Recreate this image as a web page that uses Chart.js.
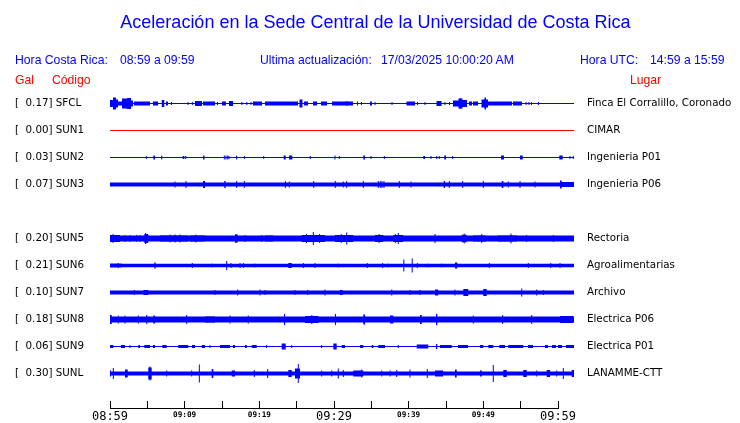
<!DOCTYPE html>
<html><head><meta charset="utf-8">
<script src="https://cdn.jsdelivr.net/npm/chart.js@4/dist/chart.umd.min.js"></script>
<style>
html,body{margin:0;padding:0;background:#fff;}
#wrap{position:relative;width:740px;height:423px;overflow:hidden;background:#fff;}
canvas{position:absolute;left:0;top:0;}
.t{position:absolute;white-space:pre;font-family:"Liberation Sans",Arial,sans-serif;line-height:1;}
.b{color:#0000ff;font-size:12.2px;}
.r{color:#ff0000;font-size:12.2px;}
</style></head><body>
<div id="wrap">
<canvas id="c" width="740" height="423"></canvas>
<div class="t" style="left:0;width:751px;text-align:center;top:13px;font-size:18px;color:#0000ff">Aceleración en la Sede Central de la Universidad de Costa Rica</div>
<div class="t b" style="left:15px;top:54px">Hora Costa Rica:</div>
<div class="t b" style="left:120px;top:54px">08:59 a 09:59</div>
<div class="t b" style="left:260px;top:54px">Ultima actualización:</div>
<div class="t b" style="left:381px;top:54px">17/03/2025 10:00:20 AM</div>
<div class="t b" style="left:580px;top:54px">Hora UTC:</div>
<div class="t b" style="left:650px;top:54px">14:59 a 15:59</div>
<div class="t r" style="left:15px;top:74px">Gal</div>
<div class="t r" style="left:52px;top:74px">Código</div>
<div class="t r" style="left:630px;top:74px">Lugar</div>
</div>
<script>
// ---------- data ----------
const codes  = ['SFCL','SUN1','SUN2','SUN3','SUN4','SUN5','SUN6','SUN7','SUN8','SUN9','SUNL'];
const gal    = [0.17, 0.00, 0.03, 0.07, null, 0.20, 0.21, 0.10, 0.18, 0.06, 0.30];
const places = ['Finca El Corralillo, Coronado','CIMAR','Ingenieria P01','Ingenieria P06',null,
                'Rectoria','Agroalimentarias','Archivo','Electrica P06','Electrica P01','LANAMME-CTT'];
// background (noise) half-amplitude of each trace
const baseAmp = [0.5, 0.5, 0.5, 2, null, 3, 1.7, 2, 3, 0.5, 2];
// time axis (minutes after 08:59) and its labels
const tickMinutes = [0,5,10,15,20,25,30,35,40,45,50,55,60];
const tickLabels  = ['08:59','','09:09','','09:19','','09:29','','09:39','','09:49','','09:59'];

// bursts: [minuteStart, minuteEnd, halfAmplitude] or [minute, halfAmplitude]
const SFCL = [[0,0.39,3.5],[0.39,0.78,6],[0.78,1.03,4],[1.03,1.55,2],[1.55,2.2,5],[2.2,2.72,5.5],[2.72,2.97,3],
 [3.1,5.17,2],[5.56,6.21,2],[6.69,7.02,3.5],[7.24,7.5,2],[7.95,1.5],[10.1,1.5],[10.65,1.5],[10.99,11.9,2.5],
 [12.03,13.58,2],[13.9,1.5],[14.48,15.0,2],[15.39,15.91,2.5],[17.05,1.5],[17.7,1.5],[18.23,1.5],[18.49,19.66,2],
 [20.04,24.31,2],[24.5,24.89,4],[25.09,25.6,2],[26.25,26.77,2],[27.28,28.06,2],[28.71,31.42,2],[30.64,2.5],
 [32.0,2],[32.52,1.5],[33.62,33.88,2],[34.27,1.5],[36.47,1.5],[38.34,39.44,2],[39.77,1.5],[40.73,1.5],
 [42.22,42.87,2.5],[43.31,1.5],[43.9,1.5],[44.35,45.06,3],[45.06,45.58,5],[45.3,5.5],[45.58,46.16,3.5],
 [46.42,46.81,2],[46.94,47.59,2],[48.04,48.43,4],[48.43,48.62,6],[48.62,48.88,4],[48.88,51.98,2],
 [52.11,53.27,2],[53.8,1.5],[54.18,1.5],[54.5,1.5],[55.4,1.5]];
const SUN1 = [];
const SUN2 = [[4.69,1.5],[5.6,5.82,2],[6.69,2],[9.4,9.61,1.5],[9.79,1.5],[12.03,12.22,2],[14.78,2],[15.0,2],
 [15.22,2],[15.39,1.5],[16.38,2],[17.37,1.5],[19.88,1.5],[22.46,22.72,2],[23.15,23.57,2],[25.9,1.5],[29.09,2],
 [29.65,1.5],[32.75,32.97,2],[33.75,1.5],[35.47,1.5],[40.51,40.73,1.5],[41.51,1.5],[42.25,1.5],[42.58,1.5],
 [43.23,43.45,2],[44.31,1.5],[50.56,50.95,2],[53.02,53.37,2],[58.1,58.54,2],[59.48,1.5],[59.91,1.5]];
const SUN3 = [[8.41,3],[9.83,3.5],[12.03,12.28,3.5],[14.78,14.96,3.5],[16.38,3.5],[17.37,3.5],[22.67,3.5],
 [23.19,3],[26.34,3.5],[29.13,3.5],[30.17,3],[30.61,3.5],[32.75,3.5],[34.69,3.5],[34.95,3.5],[35.17,3.5],
 [35.43,3.5],[37.41,3.5],[38.92,3],[43.15,43.32,3.5],[43.87,3.5],[45.61,3.5],[48.27,3.5],[50.65,50.86,3.5],
 [51.5,3],[53.02,3.5],[54.96,3],[58.19,58.41,4],[58.41,60,2.5]];
const SUN5 = [[0,1.29,3.5],[0.4,4.5],[1.94,3.5],[2.59,3.5],[3.45,3.5],[3.88,3.5],[4.44,4.95,4.5],[4.6,5.5],
 [6.47,10.09,3.2],[7.76,4],[8.41,4],[9.05,4],[10.34,12.28,3.3],[11.1,4],[16.16,16.51,4],[16.3,4.5],[17.46,3.5],
 [19.62,3.5],[20.04,21.12,3.3],[24.79,27.8,3.5],[25.4,4.5],[26.29,6.5],[27.1,4.5],[29.09,31.46,3.5],
 [30.61,6],[29.9,4.5],[31.46,34.0,3],[34.27,35.34,3.5],[34.8,4.5],[36.63,37.93,3.5],[37.28,5.5],[36.9,4.5],
 [42.03,4.5],[45.48,46.12,3.8],[45.8,5],[46.94,48.62,3.3],[48.07,4.5],[50.17,52.63,3.3],[51.85,5],
 [53.88,3.5],[57.32,3.5]];
const SUN6 = [[0,1.5,2],[1.07,2.5],[5.73,5.91,3],[10.64,2.5],[13.15,2],[15.09,4.5],[15.65,2.5],[16.81,2.5],
 [17.24,2.5],[18.75,2],[23.06,23.5,2.5],[25.0,2.5],[26.51,2.5],[29.52,2],[33.27,2.5],[35.26,2.5],[35.91,2],
 [37.93,38.06,6],[39.01,39.14,7],[39.74,2.5],[41.16,2],[42.89,2],[44.61,44.91,3],[49.05,2.5],[54.09,2.5],
 [56.99,2.5],[58.19,2.5]];
const SUN7 = [[3.14,2.5],[4.31,4.95,2.5],[7.76,8.15,2],[9.7,10.73,2],[11.34,2],[13.58,2.5],[16.51,3],[19.4,3],
 [20.04,2.5],[21.76,2],[23.92,2.5],[25.57,2.5],[27.8,3],[29.52,2],[29.74,30.09,2.5],[36.43,3],[38.79,2.5],
 [40.09,2.5],[42.03,42.45,3],[44.61,3],[45.69,46.33,3.5],[48.27,48.71,3.5],[53.24,4],[55.18,3],[56.03,2.5]];
const SUN8 = [[0,0.22,4.5],[1.07,4],[1.94,4],[3.66,4],[4.75,4.5],[5.6,5.82,4],[9.92,4.5],[12.28,13.58,3.3],
 [15.52,4],[17.88,4],[22.5,22.63,5.5],[25.22,26.94,3.5],[26.1,4.5],[29.09,29.22,5.5],[32.75,32.97,5],
 [36.21,36.63,4],[40.09,40.31,4.5],[42.16,42.32,5.5],[46.98,4],[50.78,4.5],[54.53,4.5],[58.19,59.91,3.4]];
const SUN9 = [[0,0.43,1.5],[1.42,1.94,1.5],[2.59,1.5],[3.66,3.88,1.5],[4.44,5.17,1.5],[5.56,5.82,1.5],
 [6.76,7.33,1.5],[8.83,10.12,1.5],[10.6,10.99,1.5],[11.86,12.28,1.5],[12.93,1.5],[14.22,15.52,1.5],
 [15.9,16.16,1.5],[17.46,17.68,1.5],[18.32,18.97,1.5],[20.26,1.5],[22.2,22.72,3],[23.5,1.5],[27.37,1.5],
 [28.88,29.31,3],[29.96,30.39,1.5],[32.33,32.75,1.5],[33.84,34.05,1.5],[34.69,35.56,1.5],[37.28,1.5],
 [39.66,41.16,2],[42.16,42.32,2.5],[42.67,44.18,1.5],[45.0,46.29,1.5],[47.84,48.27,1.5],[48.92,49.56,1.5],
 [50.34,51.08,1.5],[51.5,53.44,1.5],[54.05,54.7,1.5],[56.25,56.64,1.5],[57.16,57.67,1.5],[57.93,58.45,1.5],
 [58.97,60,1.5]];
const SUNL = [[0,0.13,3],[0.43,5.5],[1.94,2.29,4],[4.95,5.39,6],[5.17,7],[7.33,3],[10.56,3],[11.55,9],
 [13.15,13.36,4.5],[15.74,16.16,3],[18.66,3.5],[20.39,4.5],[23.06,23.5,3.5],[23.92,24.57,5],[24.35,9.5],
 [27.37,3],[28.67,3],[29.52,5],[30.17,3.5],[31.46,32.75,3],[32.55,4],[35.13,3],[36.21,3],[37.07,3.5],
 [38.79,4],[41.03,4.5],[42.03,43.06,3],[44.61,44.83,4],[47.84,48.07,3],[49.56,8.5],[50.86,51.3,3.5],
 [53.44,53.88,3.5],[55.18,3],[56.47,56.9,3.5],[57.76,3],[58.62,5.5],[59.7,60,3.5]];
const bursts = [SFCL, SUN1, SUN2, SUN3, null, SUN5, SUN6, SUN7, SUN8, SUN9, SUNL];

// ---------- rendering ----------
const SPACING = 27;          // vertical distance between traces (axis units)
const HALF_SAMPLE = 0.065;   // half width of a single-sample spike (minutes)
const TRACE_MIN = 0, TRACE_MAX = 60;

function envelope(base, list) {
  const segs = list.map(b => b.length === 3 ? b : [b[0] - HALF_SAMPLE, b[0] + HALF_SAMPLE, b[1]]);
  const clamp = v => Math.min(TRACE_MAX, Math.max(TRACE_MIN, v));
  const edges = new Set([TRACE_MIN, TRACE_MAX]);
  segs.forEach(s => { edges.add(clamp(s[0])); edges.add(clamp(s[1])); });
  const xs = [...edges].sort((a, b) => a - b);
  const pts = [];
  for (let i = 0; i < xs.length - 1; i++) {
    const mid = (xs[i] + xs[i + 1]) / 2;
    let a = base;
    segs.forEach(s => { if (mid > s[0] && mid < s[1]) a = Math.max(a, s[2]); });
    pts.push([xs[i], a]);
  }
  pts.push([TRACE_MAX, pts[pts.length - 1][1]]);
  return pts;
}

const datasets = [];
codes.forEach((code, i) => {
  if (!bursts[i]) return;
  const env = envelope(baseAmp[i], bursts[i]);
  const centre = i * SPACING;
  const col = code === 'SUN1' ? '#ff0000' : '#0000ff';
  const common = { type: 'line', xAxisID: 'xt', yAxisID: 'y', stepped: 'before', parsing: false,
    pointRadius: 0, borderWidth: 0, borderColor: 'rgba(0,0,0,0)', backgroundColor: col, tension: 0 };
  datasets.push(Object.assign({}, common, { label: code + ' +', fill: '+1',
    data: env.map(p => ({ x: p[0], y: centre - p[1] })) }));
  datasets.push(Object.assign({}, common, { label: code + ' -', fill: false,
    data: env.map(p => ({ x: p[0], y: centre + p[1] })) }));
});

const stationTicks = s => {
  s.ticks = codes.map((c, i) => gal[i] === null ? null : { value: i * SPACING }).filter(Boolean);
};
const idxOf = v => Math.round(v / SPACING);
const labelFont = { family: 'DejaVu Sans', size: 10.3 };

const axisLine = {
  id: 'axisLine',
  afterDraw(chart) {
    const s = chart.scales.x, ctx = chart.ctx;
    const y = Math.round(s.top) + 0.5;
    ctx.save();
    ctx.strokeStyle = '#000'; ctx.lineWidth = 1;
    ctx.beginPath();
    ctx.moveTo(Math.round(s.getPixelForValue(tickMinutes[0])), y);
    ctx.lineTo(Math.round(s.getPixelForValue(tickMinutes[tickMinutes.length - 1])) + 1, y);
    ctx.stroke();
    ctx.restore();
  }
};

new Chart(document.getElementById('c'), {
  data: { datasets },
  options: {
    responsive: false, animation: false, devicePixelRatio: 1,
    layout: { padding: { left: 15, top: 90, right: 0, bottom: 0 } },
    plugins: { legend: { display: false }, tooltip: { enabled: false } },
    scales: {
      xt: { type: 'linear', min: TRACE_MIN, max: TRACE_MAX, display: false },
      x: {
        type: 'linear', position: 'bottom', min: 0, max: 60 * 464 / 448,
        afterBuildTicks: s => { s.ticks = tickMinutes.map(v => ({ value: v })); },
        afterFit: s => { s.height = 15; },
        border: { display: false },
        grid: { drawOnChartArea: false, drawTicks: true, tickLength: -7, color: '#000', lineWidth: 1 },
        ticks: {
          padding: 9, autoSkip: false, maxRotation: 0, color: '#000',
          font: ctx => (ctx.index % 6 === 0)
            ? { family: 'DejaVu Sans Mono', size: 12 }
            : { family: 'DejaVu Sans Mono', size: 7.7, weight: 'bold' },
          callback: (v, i) => tickLabels[tickMinutes.indexOf(v)]
        }
      },
      y: {
        type: 'linear', position: 'left', reverse: true, min: -13.5, max: 304.5,
        afterBuildTicks: stationTicks,
        afterFit: s => { s.width = 95; },
        grid: { display: false, drawTicks: false }, border: { display: false },
        ticks: { crossAlign: 'far', autoSkip: false, color: '#000', font: labelFont, padding: 0,
          callback: v => { const i = idxOf(v); return '[  ' + gal[i].toFixed(2) + '] ' + codes[i]; } }
      },
      y2: {
        type: 'linear', position: 'right', reverse: true, min: -13.5, max: 304.5,
        afterBuildTicks: stationTicks,
        afterFit: s => { s.width = 166; },
        grid: { display: false, drawTicks: true, tickLength: 13 }, border: { display: false },
        ticks: { autoSkip: false, color: '#000', font: labelFont, padding: 0,
          callback: v => places[idxOf(v)] }
      }
    }
  },
  plugins: [axisLine]
});
</script>
</body></html>
